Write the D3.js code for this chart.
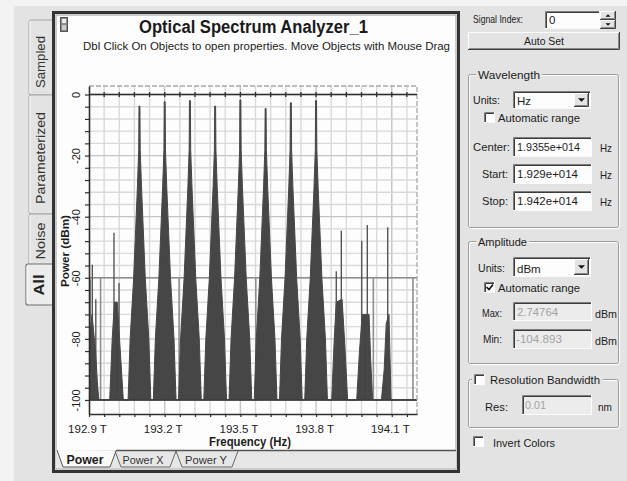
<!DOCTYPE html>
<html><head><meta charset="utf-8">
<script src="https://cdn.jsdelivr.net/npm/d3@7"></script>
<style>
body{margin:0;background:#e3e3e3}
svg{display:block;font-family:"Liberation Sans",Arial,sans-serif}
</style>
</head><body>
<svg id="c" width="627" height="481"></svg>
<script>
// ---------------- DATA ----------------
const freqRange = [192.9, 194.2];          // THz, Start .. Stop
const powerRange = [-104.6, 2.78];         // dBm, visible plot range
const xLabelValues = [192.9, 193.2, 193.5, 193.8, 194.1];
const xLabelTexts  = ["192.9 T", "193.2 T", "193.5 T", "193.8 T", "194.1 T"];
const xMinorStep = 0.06;                   // THz between ticks / grid lines
const yLabelValues = [0, -20, -40, -60, -80, -100];
const yMinorStep = 4;                      // dB between ticks / grid lines

// strong channels
const channelFreqs  = [193.1, 193.2, 193.3, 193.4, 193.5, 193.6, 193.7, 193.8];
const channelPeaks  = [-3.8, -2.4, -2.0, -3.8, -1.8, -4.6, -2.7, -2.0];
// line shape of a channel: half width (THz) of the dark trace at given power levels
const shapeLevels     = [-18, -30, -40, -60, -80, -100];
const shapeHalfWidths = [0.003, 0.008, 0.013, 0.023, 0.037, 0.045];
const shapeTopHalfWidth = 0.0018;

// weak channels: dark base outlines [freq THz, dBm]
const weakShapes = [
  [[192.897, -100], [192.903, -79], [192.912, -72], [192.920, -79], [192.926, -84], [192.933, -94], [192.939, -100]],
  [[192.982, -100], [192.992, -80], [193.001, -68], [193.012, -68], [193.024, -84], [193.036, -100]],
  [[193.862, -100], [193.872, -80], [193.880, -68], [193.903, -67], [193.914, -82], [193.925, -100]],
  [[193.961, -100], [193.972, -84], [193.983, -72], [194.010, -72], [194.016, -86], [194.024, -100]],
  [[194.059, -100], [194.070, -90], [194.078, -75], [194.089, -72], [194.093, -86], [194.097, -100]]
];
// thin spikes on the weak channels
const spikeFreqs = [192.904, 192.913, 192.927, 192.999, 193.019, 193.880, 193.900, 193.981, 194.003, 194.084];
const spikePeaks = [-60.5, -55.7, -67.0, -45.3, -61.7, -57.9, -44.6, -47.9, -42.7, -43.5];

// grey trace at -60 dBm with dips to the floor
const greyLevel = -60;
const greyFloor = -100;
const greyDipFreqs = [192.946, 193.257, 193.561, 194.027, 194.184];
const floorLevel = -100;

// ---------------- DRAWING ----------------
const svg = d3.select("#c");
const DARK = "#2e2e2e";
const TRACE = "#464646";
const PANEL = "#e3e3e3";

svg.append("rect").attr("width", 627).attr("height", 481).attr("fill", PANEL);
svg.append("rect").attr("width", 627).attr("height", 6).attr("fill", "#f3f3f3");
svg.append("rect").attr("width", 14).attr("height", 481).attr("fill", "#f3f3f3");

function txt(g, x, y, s, o = {}) {
  const t = g.append("text").attr("x", x).attr("y", y).text(s)
    .attr("font-size", o.size || 11).attr("fill", o.fill || "#1c1c1c");
  if (o.bold) t.attr("font-weight", "bold");
  if (o.anchor) t.attr("text-anchor", o.anchor);
  if (o.len) t.attr("textLength", o.len).attr("lengthAdjust", "spacingAndGlyphs");
  if (o.rot) t.attr("transform", `rotate(-90 ${x} ${y})`);
  return t;
}

// ---- left vertical tabs ----
const tabs = svg.append("g");
const tabDefs = [
  {label: "Sampled", y0: 20, y1: 95, cy: 62, len: 52},
  {label: "Parameterized", y0: 95, y1: 214, cy: 158, len: 92},
  {label: "Noise", y0: 214, y1: 265, cy: 241, len: 37}
];
tabDefs.forEach(t => {
  tabs.append("path").attr("d", `M52,${t.y1}H31Q29,${t.y1} 29,${t.y1 - 2}V${t.y0 + 2}Q29,${t.y0} 31,${t.y0}H52`)
    .attr("fill", PANEL).attr("stroke", "#a5a5a5");
  tabs.append("path").attr("d", `M30,${t.y1 - 2}V${t.y0 + 1}`).attr("stroke", "#fbfbfb");
  txt(tabs, 44.5, t.cy, t.label, {size: 13, anchor: "middle", rot: true, len: t.len, fill: "#333"});
});
tabs.append("path").attr("d", "M53,305H28Q26,305 26,303V266Q26,264 28,264H53")
  .attr("fill", "#ececec").attr("stroke", "#6f6f6f").attr("stroke-width", 1.2);
tabs.append("path").attr("d", "M27,303V266").attr("stroke", "#fff");
txt(tabs, 44, 285, "All", {size: 14, bold: true, anchor: "middle", rot: true, len: 21, fill: "#222"});

// ---- chart window ----
const win = svg.append("g");
win.append("rect").attr("x", 53.5).attr("y", 12.5).attr("width", 405).attr("height", 459)
  .attr("fill", "#fdfdfd").attr("stroke", "#333").attr("stroke-width", 3);
win.append("rect").attr("x", 56).attr("y", 15).attr("width", 400).attr("height", 454)
  .attr("fill", "none").attr("stroke", "#9a9a9a").attr("stroke-width", 1);
// bottom tab strip
win.append("rect").attr("x", 56).attr("y", 450).attr("width", 400).attr("height", 18).attr("fill", "#e6e6e6");
win.append("path").attr("d", "M116,450.5H456").attr("stroke", "#555").attr("stroke-width", 1.5);
win.append("path").attr("d", "M116,451L110,467H63L57,450").attr("fill", "#fbfbfb").attr("stroke", "#555");
win.append("path").attr("d", "M115,451L121,467H170L176,451").attr("fill", "none").attr("stroke", "#666");
win.append("path").attr("d", "M176,451L182,467H232L238,451").attr("fill", "none").attr("stroke", "#666");
txt(win, 85, 464, "Power", {size: 12, bold: true, anchor: "middle", len: 37});
txt(win, 143, 464, "Power X", {size: 11.5, anchor: "middle", len: 41, fill: "#333"});
txt(win, 206, 464, "Power Y", {size: 11.5, anchor: "middle", len: 42, fill: "#333"});

// title icon
win.append("rect").attr("x", 60.5).attr("y", 17.5).attr("width", 7).attr("height", 14).attr("fill", "#8a8a8a").attr("stroke", "#555");
win.append("rect").attr("x", 62).attr("y", 19).attr("width", 4).attr("height", 4).attr("fill", "#eee");
win.append("rect").attr("x", 62).attr("y", 25).attr("width", 4).attr("height", 5).attr("fill", "#ccc");

txt(win, 253.5, 33, "Optical Spectrum Analyzer_1", {size: 17.5, bold: true, anchor: "middle", len: 229, fill: "#1a1a1a"});
txt(win, 266.5, 50, "Dbl Click On Objects to open properties.  Move Objects with Mouse Drag", {size: 11, anchor: "middle", len: 367, fill: "#222"});

// ---- plot ----
const x = d3.scaleLinear().domain(freqRange).range([89, 417]);
const y = d3.scaleLinear().domain(powerRange).range([414, 86]);
const plot = svg.append("g");
svg.append("clipPath").attr("id", "clip").append("rect")
  .attr("x", x(freqRange[0])).attr("y", y(powerRange[1])).attr("width", x(freqRange[1]) - x(freqRange[0]))
  .attr("height", y(powerRange[0]) - y(powerRange[1]));

const minorFreqs = d3.range(freqRange[0], freqRange[1] - 1e-9, xMinorStep).map(v => +v.toFixed(3));
const minorPowers = d3.range(0, floorLevel - 1e-9, -yMinorStep);
const isMajorX = v => xLabelValues.some(m => Math.abs(m - v) < 1e-6);
const isMajorY = v => yLabelValues.includes(v);

const grid = plot.append("g");
grid.selectAll(".gv").data(minorFreqs.slice(1)).join("line")
  .attr("x1", d => x(d)).attr("x2", d => x(d)).attr("y1", y(powerRange[1])).attr("y2", y(powerRange[0]))
  .attr("stroke", d => isMajorX(d) ? "#c4c4c4" : "#d9d9d9").attr("stroke-width", 1.4);
grid.selectAll(".gh").data(minorPowers).join("line")
  .attr("x1", x(freqRange[0])).attr("x2", x(freqRange[1])).attr("y1", d => y(d)).attr("y2", d => y(d))
  .attr("stroke", d => isMajorY(d) ? "#c4c4c4" : "#d9d9d9").attr("stroke-width", 1.4);

const inner = plot.append("g").attr("clip-path", "url(#clip)");

// grey trace
const greyPts = [[freqRange[0], greyLevel]];
greyDipFreqs.forEach(f => { greyPts.push([f, greyLevel], [f, greyFloor], [f, greyLevel]); });
greyPts.push([freqRange[1], greyLevel]);
const line = d3.line().x(d => x(d[0])).y(d => y(d[1]));
inner.append("path").attr("d", line(greyPts)).attr("fill", "none")
  .attr("stroke", "#8f8f8f").attr("stroke-width", 1.6);

// main spectrum outline
const shapes = [];
channelFreqs.forEach((f, i) => {
  const pts = [];
  for (let k = shapeLevels.length - 1; k >= 0; k--) pts.push([f - shapeHalfWidths[k], shapeLevels[k]]);
  pts.push([f - shapeTopHalfWidth, channelPeaks[i]], [f + shapeTopHalfWidth, channelPeaks[i]]);
  for (let k = 0; k < shapeLevels.length; k++) pts.push([f + shapeHalfWidths[k], shapeLevels[k]]);
  shapes.push(pts);
});
weakShapes.forEach(s => shapes.push(s));
shapes.sort((a, b) => a[0][0] - b[0][0]);
const trace = [[freqRange[0] - 0.05, floorLevel]];
shapes.forEach(s => s.forEach(p => trace.push(p)));
trace.push([freqRange[1] + 0.05, floorLevel]);

const area = d3.area().x(d => x(d[0])).y0(y(floorLevel)).y1(d => y(d[1]));
inner.append("path").attr("d", area(trace)).attr("fill", TRACE)
  .attr("stroke", TRACE).attr("stroke-width", 1).attr("stroke-linejoin", "round");

// spikes
inner.selectAll(".sp").data(spikeFreqs).join("line")
  .attr("x1", d => x(d)).attr("x2", d => x(d))
  .attr("y1", y(floorLevel)).attr("y2", (d, i) => y(spikePeaks[i]))
  .attr("stroke", "#4a4a4a").attr("stroke-width", 1.3);

// floor line
inner.append("line").attr("x1", x(freqRange[0])).attr("x2", x(freqRange[1]))
  .attr("y1", y(floorLevel)).attr("y2", y(floorLevel)).attr("stroke", "#3c3c3c").attr("stroke-width", 1.5);

// dashed top & right frame
plot.append("path").attr("d", `M${x(freqRange[0])},${y(powerRange[1])}H${x(freqRange[1])}V${y(powerRange[0])}`)
  .attr("fill", "none").attr("stroke", "#a8a8a8").attr("stroke-width", 1.3).attr("stroke-dasharray", "5,2");

// 0 dB reference line with ticks
plot.append("line").attr("x1", x(freqRange[0])).attr("x2", x(freqRange[1]))
  .attr("y1", y(0)).attr("y2", y(0)).attr("stroke", DARK).attr("stroke-width", 1.6);
plot.selectAll(".zt").data(minorFreqs.slice(1)).join("line")
  .attr("x1", d => x(d)).attr("x2", d => x(d)).attr("y1", y(0) - 2.5).attr("y2", y(0) + 2.5)
  .attr("stroke", DARK).attr("stroke-width", 1.3);

// axes
const xAxis = d3.axisBottom(x).tickValues(minorFreqs)
  .tickSizeInner(3).tickSizeOuter(0)
  .tickFormat(v => { const i = xLabelValues.findIndex(m => Math.abs(m - v) < 1e-6); return i >= 0 ? xLabelTexts[i] : ""; });
const gx = plot.append("g").attr("transform", `translate(0,${y(powerRange[0])})`).call(xAxis);
gx.select(".domain").attr("stroke", DARK).attr("stroke-width", 1.6);
gx.selectAll(".tick line").attr("stroke", DARK).attr("stroke-width", 1.2);
gx.selectAll(".tick text").attr("y", 11).attr("dx", -2).attr("font-size", 11.5)
  .attr("font-family", "Liberation Sans, Arial, sans-serif").attr("fill", "#1c1c1c");

const yAxis = d3.axisLeft(y).tickValues(minorPowers).tickSizeInner(4).tickSizeOuter(0)
  .tickFormat(v => isMajorY(v) ? String(v) : "");
const gy = plot.append("g").attr("transform", `translate(${x(freqRange[0])},0)`).call(yAxis);
gy.select(".domain").attr("stroke", DARK).attr("stroke-width", 1.6);
gy.selectAll(".tick line").attr("stroke", DARK).attr("stroke-width", 1.2);
gy.selectAll(".tick text").attr("x", 0).attr("y", -9).attr("dy", 0)
  .attr("transform", "rotate(-90)").attr("text-anchor", "middle")
  .attr("font-size", 11).attr("font-family", "Liberation Sans, Arial, sans-serif").attr("fill", "#1c1c1c");

txt(plot, 250, 446, "Frequency (Hz)", {size: 12, bold: true, anchor: "middle", len: 82});
txt(plot, 69, 251, "Power (dBm)", {size: 11, bold: true, anchor: "middle", rot: true, len: 72});

// ---- right control panel ----
const rp = svg.append("g");
function sunken(x0, y0, w, h, fill) {
  rp.append("rect").attr("x", x0).attr("y", y0).attr("width", w).attr("height", h).attr("fill", fill);
  rp.append("path").attr("d", `M${x0 + 0.5},${y0 + h}V${y0 + 0.5}H${x0 + w}`).attr("fill", "none").attr("stroke", "#7d7d7d");
  rp.append("path").attr("d", `M${x0 + 1.5},${y0 + h - 1}V${y0 + 1.5}H${x0 + w - 1}`).attr("fill", "none").attr("stroke", "#3c3c3c");
  rp.append("path").attr("d", `M${x0},${y0 + h - 0.5}H${x0 + w - 0.5}V${y0}`).attr("fill", "none").attr("stroke", "#fdfdfd");
}
function raised(x0, y0, w, h) {
  rp.append("rect").attr("x", x0).attr("y", y0).attr("width", w).attr("height", h).attr("fill", PANEL);
  rp.append("path").attr("d", `M${x0 + 0.5},${y0 + h}V${y0 + 0.5}H${x0 + w}`).attr("fill", "none").attr("stroke", "#fdfdfd");
  rp.append("path").attr("d", `M${x0},${y0 + h - 0.5}H${x0 + w - 0.5}V${y0}`).attr("fill", "none").attr("stroke", "#404040");
  rp.append("path").attr("d", `M${x0 + 1},${y0 + h - 1.5}H${x0 + w - 1.5}V${y0 + 1}`).attr("fill", "none").attr("stroke", "#8a8a8a");
}
function group(x0, y0, w, h, label, lx, llen) {
  rp.append("rect").attr("x", x0 + 1).attr("y", y0 + 1).attr("width", w).attr("height", h).attr("fill", "none").attr("stroke", "#fdfdfd").attr("rx", 2);
  rp.append("rect").attr("x", x0).attr("y", y0).attr("width", w).attr("height", h).attr("fill", "none").attr("stroke", "#9c9c9c").attr("rx", 2);
  if (label) {
    rp.append("rect").attr("x", lx - 2).attr("y", y0 - 6).attr("width", llen + 4).attr("height", 12).attr("fill", PANEL);
    txt(rp, lx, y0 + 4, label, {size: 11.5, len: llen});
  }
}
function checkbox(x0, y0, checked) {
  sunken(x0, y0, 11, 11, "#fdfdfd");
  if (checked) rp.append("path").attr("d", `M${x0 + 2.5},${y0 + 5}l2.5,2.5l4,-5`).attr("fill", "none").attr("stroke", "#111").attr("stroke-width", 1.6);
}
function arrow(cx, cy, up, s) {
  const d = up ? `M${cx - s},${cy + s / 2}L${cx + s},${cy + s / 2}L${cx},${cy - s / 2}Z` : `M${cx - s},${cy - s / 2}L${cx + s},${cy - s / 2}L${cx},${cy + s / 2}Z`;
  rp.append("path").attr("d", d).attr("fill", "#111");
}
function dropdown(x0, y0, w, h, value) {
  sunken(x0, y0, w, h, "#fdfdfd");
  raised(x0 + w - 17, y0 + 2, 15, h - 4);
  arrow(x0 + w - 9.5, y0 + h / 2, false, 3.5);
  txt(rp, x0 + 4, y0 + h - 4, value, {size: 11.5});
}

// Signal index
txt(rp, 473, 23, "Signal Index:", {size: 11, len: 50});
sunken(545, 11, 55, 18, "#fdfdfd");
txt(rp, 549, 24, "0", {size: 11.5});
raised(600, 11, 16, 9); arrow(608, 15.5, true, 2.5);
raised(600, 20, 16, 9); arrow(608, 24.5, false, 2.5);

// Auto Set
raised(468, 32, 152, 18);
txt(rp, 544, 45, "Auto Set", {size: 11.5, anchor: "middle", len: 40});

// Wavelength
group(468.5, 74.5, 150, 153, "Wavelength", 478, 62);
txt(rp, 473, 104, "Units:", {size: 11, len: 27});
dropdown(513, 91, 78, 18, "Hz");
checkbox(484, 112, false);
txt(rp, 498, 122, "Automatic range", {size: 11, len: 82});
txt(rp, 473, 151, "Center:", {size: 11, len: 37});
sunken(513, 137, 79, 20, "#fdfdfd");
txt(rp, 517, 151, "1.9355e+014", {size: 11, len: 63});
txt(rp, 600, 152, "Hz", {size: 11, len: 12});
txt(rp, 482, 178, "Start:", {size: 11, len: 26});
sunken(513, 164, 79, 20, "#fdfdfd");
txt(rp, 517, 178, "1.929e+014", {size: 11, len: 61});
txt(rp, 600, 179, "Hz", {size: 11, len: 12});
txt(rp, 482, 205, "Stop:", {size: 11, len: 26});
sunken(513, 191, 79, 20, "#fdfdfd");
txt(rp, 517, 205, "1.942e+014", {size: 11, len: 61});
txt(rp, 600, 206, "Hz", {size: 11, len: 12});

// Amplitude
group(468.5, 241.5, 150, 122, "Amplitude", 478, 49);
txt(rp, 478, 272, "Units:", {size: 11, len: 27});
dropdown(513, 257, 78, 20, "dBm");
checkbox(484, 282, true);
txt(rp, 498, 292, "Automatic range", {size: 11, len: 82});
txt(rp, 482, 317, "Max:", {size: 11, len: 20});
sunken(513, 302, 79, 19, "#ececec");
txt(rp, 517, 316, "2.74764", {size: 11, len: 41, fill: "#a2a2a2"});
txt(rp, 595, 318, "dBm", {size: 11, len: 22});
txt(rp, 483, 343, "Min:", {size: 11, len: 19});
sunken(513, 329, 79, 20, "#ececec");
txt(rp, 516, 343, "-104.893", {size: 11, len: 46, fill: "#a2a2a2"});
txt(rp, 595, 345, "dBm", {size: 11, len: 22});

// Resolution bandwidth
group(468.5, 379.5, 150, 48, null);
rp.append("rect").attr("x", 472).attr("y", 372).attr("width", 131).attr("height", 14).attr("fill", PANEL);
checkbox(474, 374, false);
txt(rp, 490, 384, "Resolution Bandwidth", {size: 11.5, len: 110});
txt(rp, 485, 411, "Res:", {size: 11, len: 23});
sunken(522, 395, 70, 20, "#ececec");
txt(rp, 525, 409, "0.01", {size: 11, len: 21, fill: "#a2a2a2"});
txt(rp, 598, 411, "nm", {size: 11, len: 14});

// Invert colors
checkbox(473, 436, false);
txt(rp, 493, 447, "Invert Colors", {size: 11, len: 62});
</script>
</body></html>
